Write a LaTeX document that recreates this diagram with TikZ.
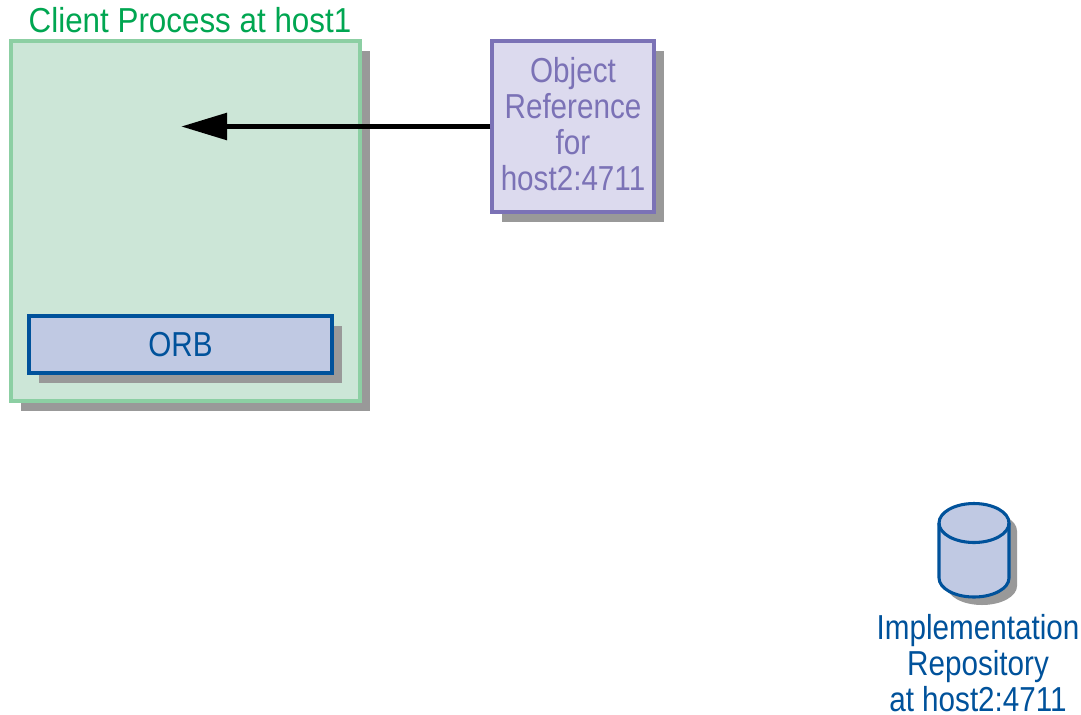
\documentclass[tikz,border=0pt]{standalone}
\usepackage{fontspec}
\setmainfont[FakeStretch=0.855]{Liberation Sans}
\newfontfamily\titlefont[FakeStretch=0.905]{Liberation Sans}
\usetikzlibrary{arrows.meta,shadows}
\definecolor{shadowgrey}{HTML}{999999}
\definecolor{clientfill}{HTML}{CCE6D7}
\definecolor{clientline}{HTML}{8CCFA3}
\definecolor{clienttext}{HTML}{00A651}
\definecolor{orbfill}{HTML}{C0C9E3}
\definecolor{orbline}{HTML}{00529B}
\definecolor{reffill}{HTML}{DCDAEE}
\definecolor{refline}{HTML}{7B72B6}
\tikzset{
  txt/.style={font=\fontsize{26pt}{27pt}\selectfont,align=center,inner sep=0pt},
  boxshadow/.style={drop shadow={shadow xshift=7.2pt,shadow yshift=-7.2pt,opacity=1,fill=shadowgrey}},
  basebox/.style={draw,line width=2.3pt,boxshadow,inner sep=0pt,txt},
  clientbox/.style={basebox,draw=clientline,fill=clientfill},
  orbbox/.style={basebox,draw=orbline,fill=orbfill,text=orbline},
  refbox/.style={basebox,draw=refline,fill=reffill,text=refline},
  cyl/.style={draw=orbline,line width=2.3pt,fill=orbfill,line join=round},
  flow/.style={line width=4.2pt,-{Triangle[length=34.5pt,width=19.5pt]}}
}
\begin{document}
\begin{tikzpicture}[x=0.75pt,y=-0.75pt]
\useasboundingbox (0,0) rectangle (1081,714);
\fill[white] (0,0) rectangle (1081,714);
% client process
\node[clientbox,minimum width=261.75pt,minimum height=270pt] (client) at (185.5,221) {};
\node[txt,text=clienttext,font=\fontsize{26pt}{27pt}\selectfont\titlefont] (clienttitle) at (190,20) {Client Process at host1};
\node[orbbox,minimum width=227.25pt,minimum height=42.75pt] (orb) at (180.5,344.5) {ORB};
% object reference
\node[refbox,minimum width=121.5pt,minimum height=128.25pt] (objref) at (573,126.5)
  {\raisebox{-2.25pt}[\height][\depth]{\begin{tabular}{@{}c@{}}Object\\[0pt]Reference\\[0pt]for\\[0pt]host2:4711\end{tabular}}};
\coordinate (arrowend) at (181,126.5);
\draw[flow] (objref.west) -- (arrowend);
% repository
\fill[shadowgrey] (947,531) arc[start angle=180,end angle=360,x radius=35,y radius=19.5]
  -- (1017,586) arc[start angle=0,end angle=180,x radius=35,y radius=19] -- cycle;
\path[cyl] (939,523) arc[start angle=180,end angle=360,x radius=35,y radius=19.5]
  -- (1009,578) arc[start angle=0,end angle=180,x radius=35,y radius=19] -- cycle;
\draw[cyl,fill=none] (939,523) arc[start angle=180,end angle=0,x radius=35,y radius=19.5];
\node[txt,text=orbline] (repo) at (978,663) {Implementation\\Repository\\at host2:4711};
\end{tikzpicture}
\end{document}
